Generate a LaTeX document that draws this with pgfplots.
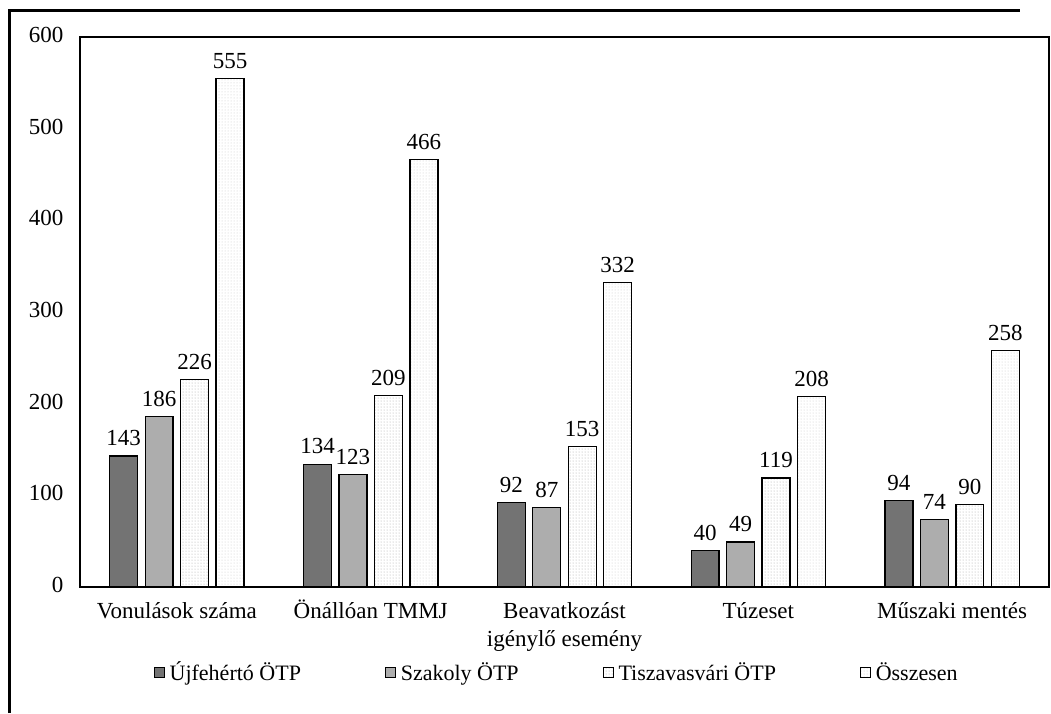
\documentclass[border=0pt]{standalone}
\usepackage{fontspec}
\setmainfont{Liberation Serif}
\usepackage{pgfplots}
\pgfplotsset{compat=1.18}
\usetikzlibrary{patterns}

\newcommand{\lbl}{\fontsize{23}{28}\selectfont}

\begin{document}
\begin{tikzpicture}
\useasboundingbox (0,0) rectangle (1051pt,713pt);
% outer frame of the scan
\draw[line width=3pt] (9pt,0pt) -- (9pt,702pt) -- (1020pt,702pt);
\begin{axis}[
    at={(80pt,126pt)}, anchor=south west,
    scale only axis,
    width=969pt, height=550pt,
    xmin=-0.5, xmax=4.5,
    ymin=0, ymax=600,
    ytick={0,100,...,600},
    xtick={0,1,2,3,4},
    xticklabels={Vonulások száma, Önállóan TMMJ, Beavatkozást\\igénylő esemény, Túzeset, Műszaki mentés},
    typeset ticklabels with strut,
    major tick length=0pt,
    tick style={draw=none},
    axis line style={line width=1.4pt},
    /pgf/number format/assume math mode=true,
    tick label style={font=\lbl},
    yticklabel style={xshift=-13pt},
    xticklabel style={align=center, yshift=-8pt},
    ybar, bar width=0.144,
    nodes near coords,
    every node near coord/.append style={font=\lbl, yshift=6pt},
    legend columns=4,
    legend style={draw=none, fill=none, font=\fontsize{22}{26}\selectfont,
        at={(axis description cs:0.492,-0.1545)}, anchor=center,
        /tikz/every odd column/.append style={column sep=3pt},
        /tikz/every even column/.append style={column sep=82pt}},
    legend image code/.code={\draw[#1, line width=0.8pt] (0pt,-5pt) rectangle (10pt,5pt);},
]
\addplot[bar shift=-0.2745, draw=black, line width=1.3pt, fill=black!55]
    coordinates {(0,143) (1,134) (2,92) (3,40) (4,94)};
\addplot[bar shift=-0.0915, draw=black, line width=1.3pt, fill=black!32]
    coordinates {(0,186) (1,123) (2,87) (3,49) (4,74)};
\addplot[bar shift=0.0915, draw=black, line width=1.3pt, fill=white,
    postaction={pattern=dots, pattern color=black!35}]
    coordinates {(0,226) (1,209) (2,153) (3,119) (4,90)};
\addplot[bar shift=0.2745, draw=black, line width=1.3pt, fill=white,
    postaction={pattern=dots, pattern color=black!22}]
    coordinates {(0,555) (1,466) (2,332) (3,208) (4,258)};
\legend{Újfehértó ÖTP, Szakoly ÖTP, Tiszavasvári ÖTP, Összesen}
\end{axis}
\end{tikzpicture}
\end{document}
